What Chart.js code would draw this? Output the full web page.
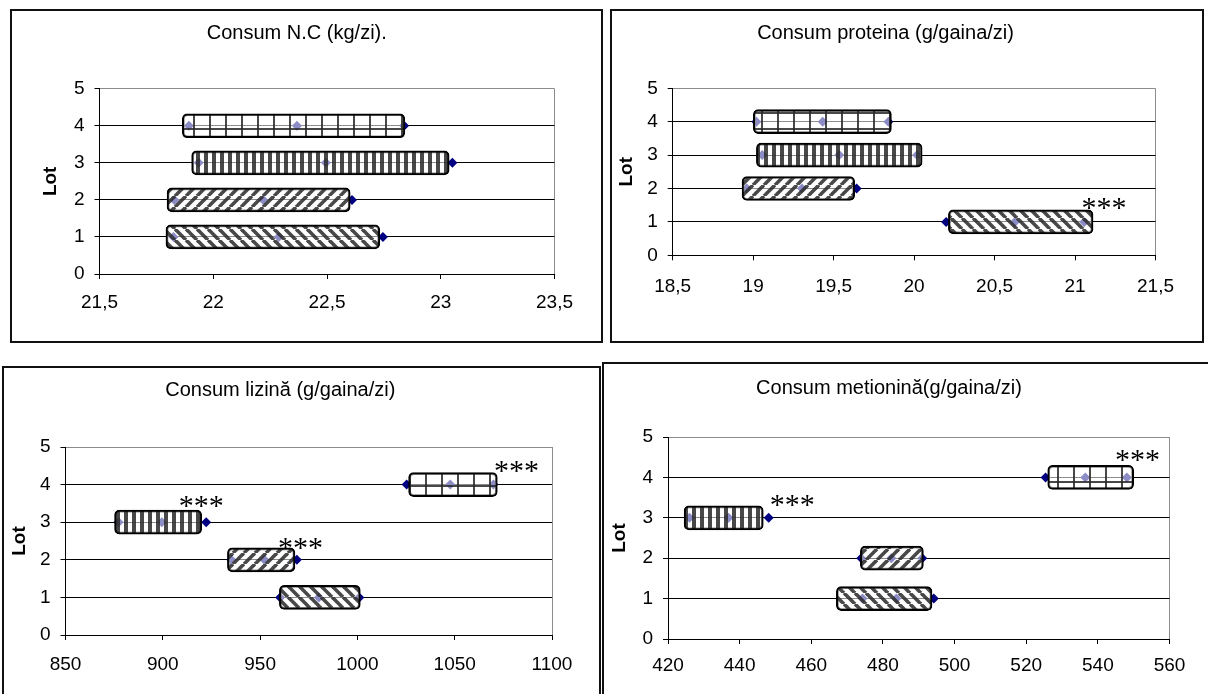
<!DOCTYPE html>
<html><head><meta charset="utf-8">
<script src="https://cdn.jsdelivr.net/npm/chart.js@4/dist/chart.umd.min.js"></script>
<style>
html,body{margin:0;padding:0;background:#fff;overflow:hidden;width:1208px;height:694px;position:relative;}
.frame{position:absolute;border:2px solid #111;box-sizing:border-box;pointer-events:none;}
canvas{position:absolute;}
</style></head><body>
<script>
// ---------- DATA ----------
const lots = [1, 2, 3, 4];
const yTicks = [0, 1, 2, 3, 4, 5];

// Panel 1: Consum N.C (kg/zi).
const ncTitle = 'Consum N.C (kg/zi).';
const ncTicks = [21.5, 22, 22.5, 23, 23.5];
const ncMarkA = [21.825, 21.829, 21.936, 21.893];
const ncMarkB = [22.288, 22.220, 22.495, 22.368];
const ncMarkC = [22.746, 22.610, 23.051, 22.839];
const ncBarFrom = [21.792, 21.797, 21.905, 21.864];
const ncBarTo = [22.732, 22.602, 23.037, 22.842];
const ncStarX = [];
const ncStarY = [];

// Panel 2: Consum proteina (g/gaina/zi)
const protTitle = 'Consum proteina (g/gaina/zi)';
const protTicks = [18.5, 19, 19.5, 20, 20.5, 21, 21.5];
const protMarkA = [20.199, 18.960, 19.056, 19.020];
const protMarkB = [20.626, 19.303, 19.535, 19.432];
const protMarkC = [21.057, 19.643, 20.019, 19.840];
const protBarFrom = [20.213, 18.931, 19.020, 19.001];
const protBarTo = [21.112, 19.631, 20.050, 19.859];
const protStarX = [21.18];
const protStarY = [1.54];

// Panel 3: Consum lizină (g/gaina/zi)
const lizTitle = 'Consum lizină (g/gaina/zi)';
const lizTicks = [850, 900, 950, 1000, 1050, 1100];
const lizMarkA = [960.3, 935.2, 877.3, 1025.3];
const lizMarkB = [980.2, 952.2, 899.5, 1047.7];
const lizMarkC = [1001.0, 968.9, 922.3, 1069.9];
const lizBarFrom = [959.9, 933.2, 875.2, 1026.3];
const lizBarTo = [1001.5, 967.9, 920.0, 1071.9];
const lizStarX = [970.8, 919.7, 1081.8];
const lizStarY = [2.43, 3.56, 4.47];

// Panel 4: Consum metionină(g/gaina/zi)
const metTitle = 'Consum metionină(g/gaina/zi)';
const metTicks = [420, 440, 460, 480, 500, 520, 540, 560];
const metMarkA = [474.3, 473.95, 426.0, 525.4];
const metMarkB = [483.75, 482.35, 436.9, 536.5];
const metMarkC = [494.2, 490.97, 448.1, 548.1];
const metBarFrom = [467.0, 473.7, 424.5, 526.0];
const metBarTo = [493.7, 491.3, 446.6, 550.0];
const metStarX = [454.7, 551.1];
const metStarY = [3.42, 4.55];

// ---------- STYLE HELPERS ----------
const FONT = '"Liberation Sans", Arial, sans-serif';
const NAVY = '#000080';
const TICK_SIZE = 19, TITLE_SIZE = 20, LOT_SIZE = 19;

function makePattern(kind) {
  const c = document.createElement('canvas');
  let w = 11, h = 11;
  if (kind === 'vert') { w = 8; h = 8; }
  if (kind === 'grid') { w = 16; h = 16; }
  c.width = w; c.height = h;
  const g = c.getContext('2d');
  g.fillStyle = 'rgba(255,255,255,0.55)';
  g.fillRect(0, 0, w, h);
  const ink = 'rgba(40,40,40,0.85)';
  g.strokeStyle = ink;
  if (kind === 'back') {
    g.lineWidth = 3.6;
    for (let k = -1; k <= 1; k++) { g.beginPath(); g.moveTo(k * w, 0); g.lineTo(k * w + w, h); g.stroke(); }
  } else if (kind === 'fwd') {
    g.lineWidth = 3.6;
    for (let k = -1; k <= 1; k++) { g.beginPath(); g.moveTo(k * w, h); g.lineTo(k * w + w, 0); g.stroke(); }
  } else if (kind === 'vert') {
    g.fillStyle = ink;
    g.fillRect(2, 0, 4, h);
  } else if (kind === 'grid') {
    g.fillStyle = ink;
    g.fillRect(7, 0, 2, h);
    g.fillRect(0, 7, w, 2);
  }
  const ctx = document.createElement('canvas').getContext('2d');
  return ctx.createPattern(c, 'repeat');
}
const lotPatterns = [makePattern('back'), makePattern('fwd'), makePattern('vert'), makePattern('grid')];

const starPlugin = {
  id: 'stars',
  afterDatasetsDraw(chart, args, opts) {
    const { ctx } = chart;
    const x = chart.scales.x, y = chart.scales.y;
    ctx.save();
    ctx.font = opts.font;
    ctx.fillStyle = '#000';
    ctx.textAlign = 'center';
    ctx.textBaseline = 'alphabetic';
    const m = ctx.measureText('***');
    (opts.xs || []).forEach((xv, i) => {
      const px = x.getPixelForValue(xv), py = y.getPixelForValue(opts.ys[i]);
      ctx.fillText('***', px, py + (m.actualBoundingBoxAscent - m.actualBoundingBoxDescent) / 2);
    });
    ctx.restore();
  }
};

function fmt(v) { return String(v).replace('.', ','); }

function build(p) {
  const fr = document.createElement('div');
  fr.className = 'frame';
  Object.assign(fr.style, { left: p.box.x + 'px', top: p.box.y + 'px', width: p.box.w + 'px', height: p.box.h + 'px' });
  const cv = document.createElement('canvas');
  cv.width = p.box.w; cv.height = p.box.h;
  cv.style.left = p.box.x + 'px'; cv.style.top = p.box.y + 'px';
  document.body.appendChild(cv);
  document.body.appendChild(fr);

  const xMin = p.ticks[0], xMax = p.ticks[p.ticks.length - 1];
  const markers = [];
  lots.forEach((l, i) => {
    markers.push({ x: p.a[i], y: l }, { x: p.b[i], y: l }, { x: p.c[i], y: l });
  });
  const yTitleLH = LOT_SIZE * 1.2;
  const titleLH = TITLE_SIZE * 1.2;
  let padL = p.lotX - p.box.x - yTitleLH / 2;
  let yTitlePadB = 10, padR = 20, padB = 10, titlePadB = 20;

  const cfg = {
    type: 'scatter',
    data: {
      datasets: [
        {
          type: 'bar',
          indexAxis: 'y',
          order: 0,
          data: lots.map((l, i) => ({ x: [p.from[i], p.to[i]], y: l })),
          backgroundColor: lotPatterns,
          borderColor: '#000',
          borderWidth: 2,
          borderRadius: 5,
          borderSkipped: false,
          barThickness: 24,
        },
        {
          type: 'scatter',
          order: 1,
          data: markers,
          pointStyle: 'rectRot',
          radius: 5,
          pointRadius: 5,
          backgroundColor: NAVY,
          borderColor: NAVY,
          borderWidth: 0,
        }
      ]
    },
    options: {
      responsive: false,
      animation: false,
      events: [],
      layout: { padding: { left: padL, right: padR, top: 0, bottom: padB } },
      plugins: {
        legend: { display: false },
        tooltip: { enabled: false },
        title: {
          display: true, text: p.title, color: '#000',
          font: { family: FONT, size: TITLE_SIZE, weight: 'normal' },
          padding: { top: p.titleTop - p.box.y - titleLH / 2, bottom: titlePadB }
        },
        stars: { xs: p.sx, ys: p.sy, font: '30px "Liberation Serif", "Times New Roman", serif' }
      },
      scales: {
        x: {
          type: 'linear', position: 'bottom', min: xMin, max: xMax, offset: false,
          afterBuildTicks: s => { s.ticks = p.ticks.map(v => ({ value: v })); },
          ticks: { callback: v => fmt(v), color: '#000', font: { family: FONT, size: TICK_SIZE }, padding: p.xPad, maxRotation: 0, autoSkip: false },
          grid: { offset: false, color: c => (c.tick && c.tick.value === xMax) ? '#8c8c8c' : 'rgba(0,0,0,0)', tickColor: '#000', tickLength: 5, lineWidth: 1 },
          border: { color: '#000', width: 1 }
        },
        y: {
          type: 'linear', position: 'left', min: 0, max: 5, offset: false,
          afterBuildTicks: s => { s.ticks = yTicks.map(v => ({ value: v })); },
          ticks: { color: '#000', font: { family: FONT, size: TICK_SIZE }, padding: 10 },
          grid: { offset: false, color: c => (c.tick && c.tick.value === 5) ? '#8c8c8c' : '#000', tickColor: '#000', tickLength: 5, lineWidth: 1 },
          border: { color: '#000', width: 1 },
          title: { display: true, text: 'Lot', color: '#000', font: { family: FONT, size: LOT_SIZE, weight: 'bold' }, padding: { top: 0, bottom: yTitlePadB } }
        }
      }
    },
    plugins: [starPlugin]
  };
  const chart = new Chart(cv, cfg);
  const tl = p.area.l - p.box.x, tr = p.area.r - p.box.x, tt = p.area.t - p.box.y, tb = p.area.b - p.box.y;
  for (let k = 0; k < 6; k++) {
    const a = chart.chartArea;
    yTitlePadB += tl - a.left;
    padR += a.right - tr;
    padB += a.bottom - tb;
    titlePadB += tt - a.top;
    const o = chart.config.options;
    o.layout.padding = { left: padL, right: padR, top: 0, bottom: padB };
    o.scales.y.title.padding = { top: 0, bottom: yTitlePadB };
    o.plugins.title.padding = { top: p.titleTop - p.box.y - titleLH / 2, bottom: titlePadB };
    chart.update('none');
  }
  return chart;
}

const panels = [
  { title: ncTitle, ticks: ncTicks, a: ncMarkA, b: ncMarkB, c: ncMarkC, from: ncBarFrom, to: ncBarTo, sx: ncStarX, sy: ncStarY,
    box: { x: 10, y: 9, w: 593, h: 334 }, area: { l: 99.5, r: 554.5, t: 88.7, b: 274 }, titleTop: 33.3, lotX: 50.5, xPad: 12 },
  { title: protTitle, ticks: protTicks, a: protMarkA, b: protMarkB, c: protMarkC, from: protBarFrom, to: protBarTo, sx: protStarX, sy: protStarY,
    box: { x: 610, y: 9, w: 594, h: 334 }, area: { l: 672.7, r: 1155.5, t: 88.3, b: 255.3 }, titleTop: 33.3, lotX: 627, xPad: 15 },
  { title: lizTitle, ticks: lizTicks, a: lizMarkA, b: lizMarkB, c: lizMarkC, from: lizBarFrom, to: lizBarTo, sx: lizStarX, sy: lizStarY,
    box: { x: 2, y: 366, w: 599, h: 340 }, area: { l: 65.5, r: 552, t: 447, b: 635 }, titleTop: 390.3, lotX: 20, xPad: 13.5 },
  { title: metTitle, ticks: metTicks, a: metMarkA, b: metMarkB, c: metMarkC, from: metBarFrom, to: metBarTo, sx: metStarX, sy: metStarY,
    box: { x: 602, y: 362, w: 620, h: 340 }, area: { l: 668, r: 1169.5, t: 437, b: 639 }, titleTop: 388.7, lotX: 619.8, xPad: 10.5 }
];
panels.forEach(build);
</script>
</body></html>
